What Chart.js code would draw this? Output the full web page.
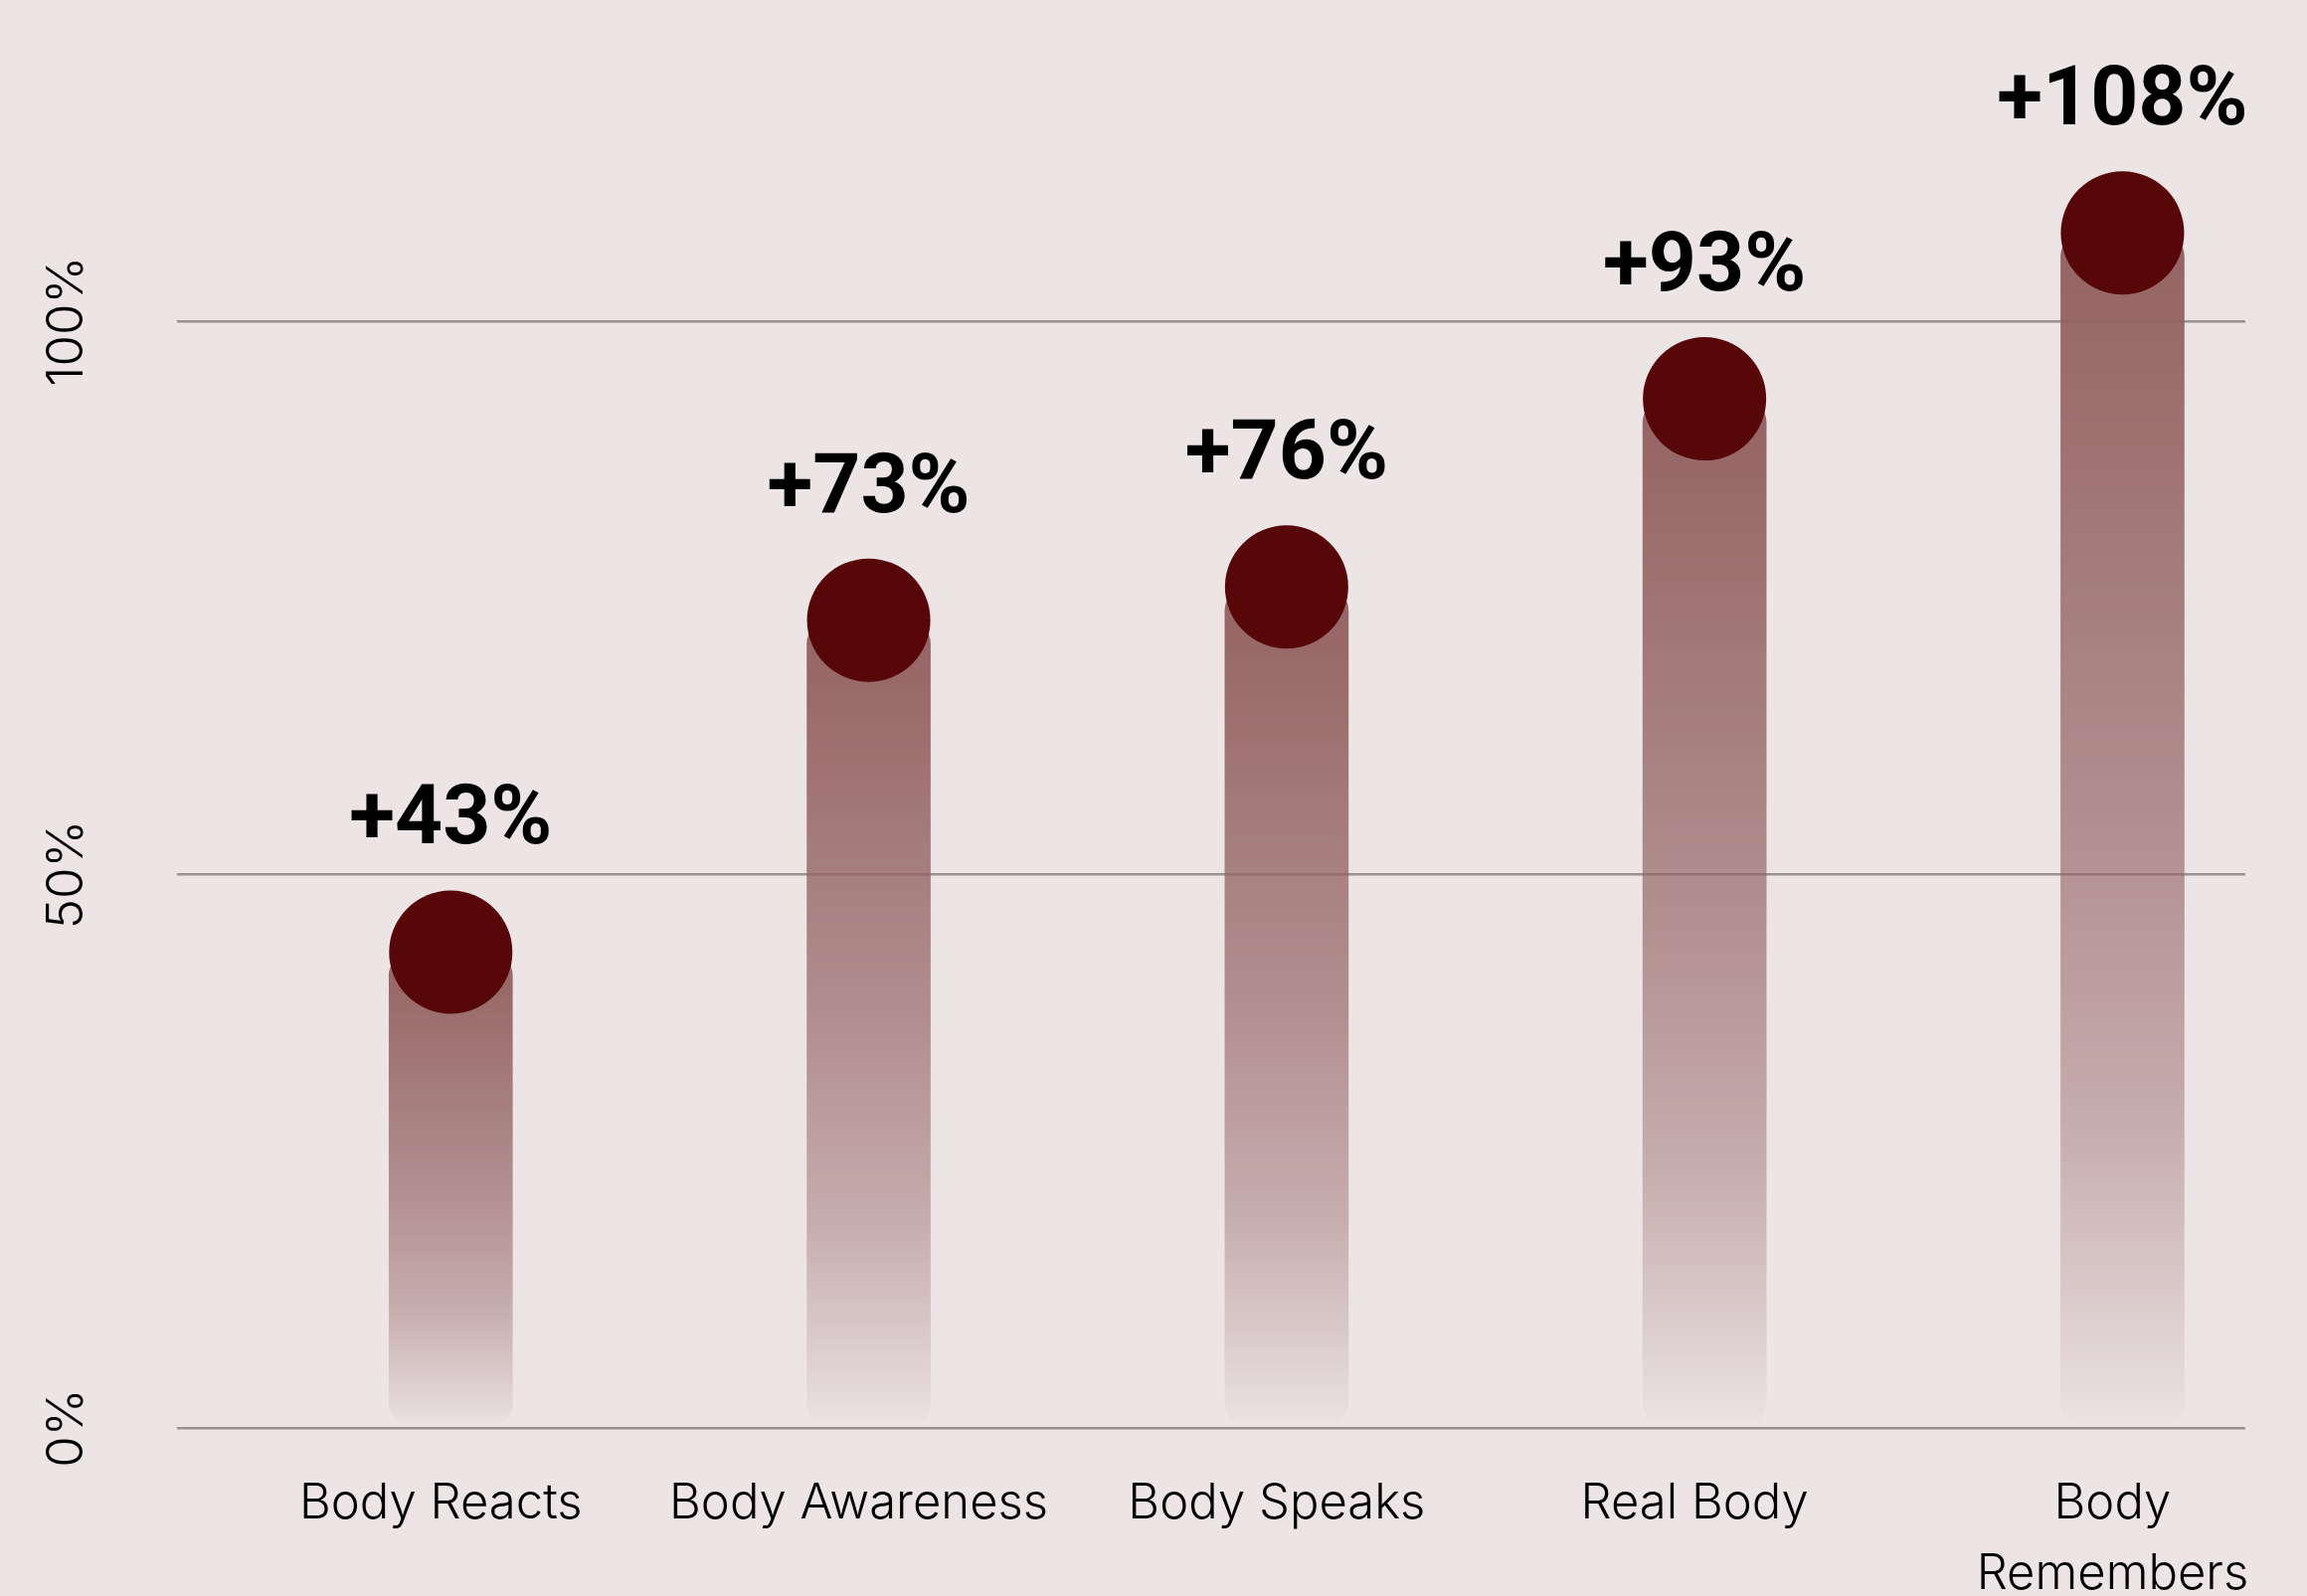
<!DOCTYPE html>
<html>
<head>
<meta charset="utf-8">
<script src="https://cdn.jsdelivr.net/npm/chart.js@4.4.1/dist/chart.umd.min.js"></script>
<style>
  html, body { margin: 0; padding: 0; background: #ece4e5; overflow: hidden; }
  #gainChart { display: block; }
</style>
</head>
<body>
<canvas id="gainChart" width="2320" height="1605"></canvas>
<script>
// chapters along the x axis and the gain reached in each
const categories = ['Body Reacts', 'Body Awareness', 'Body Speaks', 'Real Body', ['Body', 'Remembers']];
const gains = [43, 73, 76, 93, 108];
const yTicks = [0, 50, 100];

const BAR_TOP = [148, 98, 98];
const DOT = '#570707';
const LIGHT_FONT = 'Inter';
const BOLD_FONT = 'Roboto';

// vertical fade for each bar, from its own top down to the zero line
function barFade(ctx) {
  const rgb = BAR_TOP.join(',');
  const chart = ctx.chart;
  const y = chart.scales.y;
  if (!y || !ctx.parsed) return 'rgba(' + rgb + ',0.6)';
  const top = y.getPixelForValue(ctx.parsed.y);
  const base = y.getPixelForValue(0);
  if (!isFinite(top) || !isFinite(base)) return 'rgba(' + rgb + ',0.6)';
  const g = chart.ctx.createLinearGradient(0, top, 0, base);
  g.addColorStop(0, 'rgba(' + rgb + ',1)');
  g.addColorStop(0.5, 'rgba(' + rgb + ',0.66)');
  g.addColorStop(0.75, 'rgba(' + rgb + ',0.42)');
  g.addColorStop(0.9, 'rgba(' + rgb + ',0.18)');
  g.addColorStop(1, 'rgba(' + rgb + ',0)');
  return g;
}

// "+NN%" written above every dot
const valueLabels = {
  id: 'valueLabels',
  afterDatasetsDraw(chart) {
    const meta = chart.getDatasetMeta(0);
    const ctx = chart.ctx;
    ctx.save();
    ctx.font = '700 84px "' + BOLD_FONT + '"';
    ctx.fillStyle = '#000';
    ctx.textAlign = 'center';
    ctx.textBaseline = 'alphabetic';
    meta.data.forEach((pt, i) => {
      ctx.fillText('+' + gains[i] + '%', pt.x, pt.y - 109);
    });
    ctx.restore();
  }
};

const points = gains.map((g, i) => ({ x: i, y: g }));

new Chart(document.getElementById('gainChart'), {
  data: {
    datasets: [
      {
        type: 'line',
        data: points,
        showLine: false,
        pointRadius: 62,
        pointHoverRadius: 62,
        pointBackgroundColor: DOT,
        pointBorderWidth: 0,
        clip: false,
        order: 0
      },
      {
        type: 'bar',
        data: points,
        backgroundColor: barFade,
        barThickness: 124,
        borderRadius: 24,
        borderSkipped: false,
        clip: false,
        order: 1
      }
    ]
  },
  options: {
    responsive: false,
    animation: false,
    events: [],
    layout: { padding: { top: 45, right: 50, left: 0, bottom: 0 } },
    plugins: { legend: { display: false }, tooltip: { enabled: false } },
    scales: {
      x: {
        type: 'linear',
        offset: false,
        min: -0.655,
        max: 4.294,
        afterBuildTicks: axis => { axis.ticks = categories.map((_, i) => ({ value: i })); },
        afterFit: axis => {
          axis.height = 169;
          axis.paddingLeft = 0;
          axis.paddingRight = 0;
        },
        grid: { display: false },
        border: { display: false },
        ticks: {
          callback: v => categories[v],
          color: '#000',
          padding: 33,
          labelOffset: -10,
          maxRotation: 0,
          font: { family: LIGHT_FONT, weight: 300, size: 49, lineHeight: 1.45 }
        }
      },
      y: {
        min: 0,
        max: 122.25,
        afterBuildTicks: axis => { axis.ticks = yTicks.map(v => ({ value: v })); },
        afterFit: axis => { axis.width = 178; },
        border: { display: false },
        grid: { color: '#979393', lineWidth: 2.5, drawTicks: false },
        ticks: {
          callback: v => v + '%',
          color: '#000',
          minRotation: 90,
          maxRotation: 90,
          crossAlign: 'center',
          padding: 45,
          font: { family: LIGHT_FONT, weight: 300, size: 51 }
        }
      }
    }
  },
  plugins: [valueLabels]
});
</script>
</body>
</html>
